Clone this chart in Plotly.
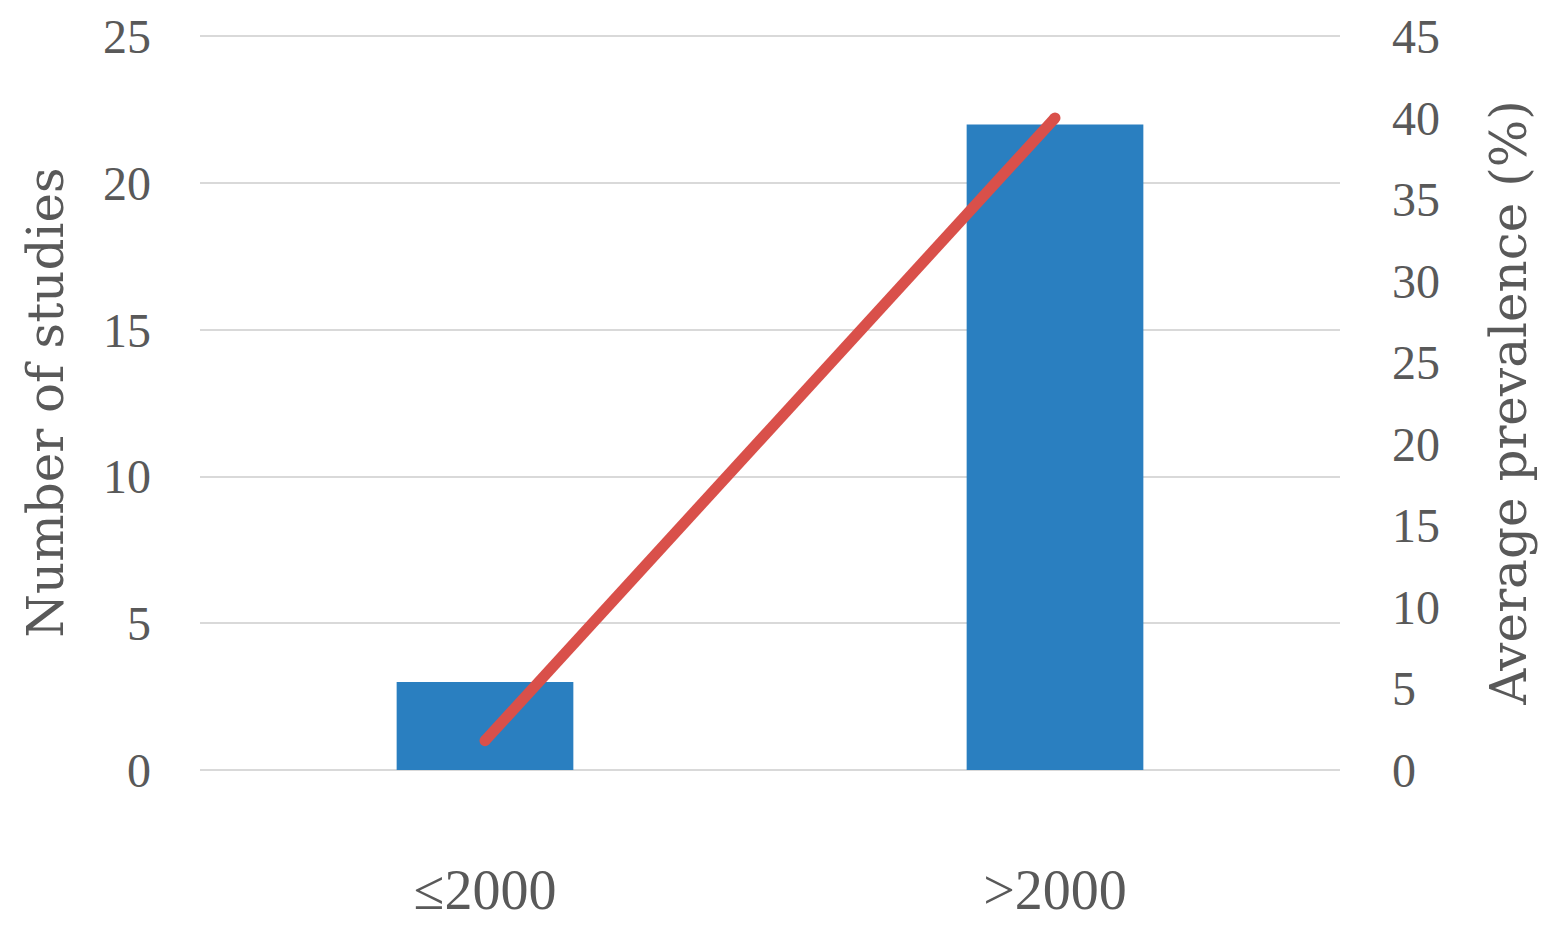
import plotly.graph_objects as go

categories = ["≤2000", ">2000"]
num_studies = [3, 22]
avg_prevalence = [1.8, 40]

tick_family = "Liberation Serif, serif"
title_family = "DejaVu Serif, serif"
grey = "#595959"

fig = go.Figure()
fig.add_trace(go.Bar(x=categories, y=num_studies, marker_color="#2a7fc0",
                     marker_line_width=0, yaxis="y", showlegend=False))
fig.add_trace(go.Scatter(x=categories, y=avg_prevalence, mode="lines+markers",
                         line=dict(color="#d9504a", width=11),
                         marker=dict(color="#d9504a", size=11, line_width=0),
                         yaxis="y2", showlegend=False))

fig.update_layout(
    width=1558, height=936,
    margin=dict(l=192, r=226, t=27, b=174),
    paper_bgcolor="white", plot_bgcolor="white",
    bargap=0.69,
    font=dict(family=tick_family, color=grey),
    xaxis=dict(type="category", range=[-0.5, 1.5], showgrid=False, automargin=False,
               showline=False, ticks="", tickfont=dict(size=56, color=grey),
               ticklabelstandoff=82),
    yaxis=dict(range=[0, 25.05], tickvals=[0, 5, 10, 15, 20, 25], showgrid=True,
               gridcolor="#d9d9d9", automargin=False,
               gridwidth=2, zeroline=True, zerolinecolor="#d9d9d9", zerolinewidth=2,
               tickfont=dict(size=48, color=grey), ticklabelstandoff=48,
               title=dict(text="Number of studies",
                          font=dict(size=50, color=grey, family=title_family),
                          standoff=23)),
    yaxis2=dict(range=[0, 45.09], tickvals=list(range(0, 50, 5)), overlaying="y",
                side="right", automargin=False,
                showgrid=False, zeroline=False,
                tickfont=dict(size=48, color=grey), ticklabelstandoff=51,
                title=dict(text="Average prevalence (%)",
                           font=dict(size=50, color=grey, family=title_family),
                           standoff=51)),
)

fig.write_html("out.html")
